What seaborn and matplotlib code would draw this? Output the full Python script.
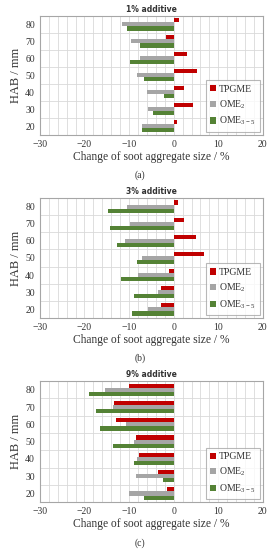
import numpy as np
import pandas as pd
import seaborn as sns
import matplotlib.pyplot as plt
from matplotlib.ticker import MultipleLocator, FixedLocator

# heights above burner, top to bottom
hab = [80, 70, 60, 50, 40, 30, 20]
series = ['TPGME', 'OME$_2$', 'OME$_{3-5}$']
colors = ['#C00000', '#A5A5A5', '#548235']
titles = ['1% additive', '3% additive', '9% additive']
panel_tags = ['(a)', '(b)', '(c)']

# change of soot aggregate size / %
tpgme_1 = [1.3, -1.7, 3.0, 5.2, 2.3, 4.3, 0.7]
ome2_1 = [-11.6, -9.5, -7.6, -8.2, -6.0, -5.8, -7.1]
ome35_1 = [-10.4, -7.6, -9.9, -6.6, -2.1, -4.6, -7.1]

tpgme_3 = [0.9, 2.4, 4.9, 6.9, -1.0, -2.8, -2.8]
ome2_3 = [-10.4, -9.9, -10.9, -7.2, -8.1, -3.5, -5.7]
ome35_3 = [-14.7, -14.3, -12.8, -8.2, -11.9, -8.8, -9.3]

tpgme_9 = [-10.1, -13.3, -13.0, -8.4, -7.7, -3.6, -1.4]
ome2_9 = [-15.4, -13.7, -10.6, -8.9, -8.2, -8.4, -10.1]
ome35_9 = [-18.9, -17.5, -16.5, -13.7, -8.8, -2.4, -6.6]

panels = [(tpgme_1, ome2_1, ome35_1),
          (tpgme_3, ome2_3, ome35_3),
          (tpgme_9, ome2_9, ome35_9)]

sns.set_theme(style='white')
plt.rcParams['font.family'] = ['Liberation Serif', 'DejaVu Serif']
plt.rcParams['mathtext.default'] = 'regular'

fig = plt.figure(figsize=(2.77, 5.5), dpi=100)
boxes = [[0.144, 0.755, 0.805, 0.216],
         [0.144, 0.422, 0.805, 0.218],
         [0.144, 0.087, 0.805, 0.220]]

for box, vals, title, tag in zip(boxes, panels, titles, panel_tags):
    ax = fig.add_axes(box)
    df = pd.DataFrame({
        'HAB': hab * 3,
        'series': [s for s in series for _ in hab],
        'change': list(vals[0]) + list(vals[1]) + list(vals[2]),
    })
    sns.barplot(data=df, x='change', y='HAB', hue='series', order=hab,
                hue_order=series, palette=colors, orient='h', width=0.72,
                gap=0, saturation=1, linewidth=0, ax=ax)
    ax.set_xlim(-30, 20)
    ax.set_ylim(6.5, -0.5)
    ax.xaxis.set_major_locator(MultipleLocator(10))
    ax.xaxis.set_minor_locator(MultipleLocator(2))
    ax.yaxis.set_minor_locator(FixedLocator(np.arange(-0.5, 7, 1)))
    ax.grid(True, which='minor', axis='both', color='#D9D9D9', lw=0.6)
    ax.grid(True, which='major', axis='x', color='#D9D9D9', lw=0.6)
    ax.set_axisbelow(True)
    ax.tick_params(which='both', length=0, labelsize=7, colors='#333333', pad=3.5)
    for sp in ax.spines.values():
        sp.set_color('#A6A6A6')
        sp.set_linewidth(0.8)
    ax.set_ylabel('HAB / mm', fontsize=9, color='#333333', labelpad=2)
    ax.set_xlabel('Change of soot aggregate size / %', fontsize=8.3,
                  color='#333333', labelpad=1.5)
    ax.set_title(title, fontsize=5.5, fontweight='bold', family='DejaVu Sans',
                 color='#333333', pad=3)
    ax.text(0.45, -0.30, tag, transform=ax.transAxes, ha='center', va='top',
            fontsize=7, color='#333333')
    leg = ax.legend(loc='lower right', frameon=True, fancybox=False,
                    edgecolor='#A6A6A6', fontsize=7, handlelength=0.6,
                    handleheight=0.6, handletextpad=0.3, labelspacing=0.45,
                    borderaxespad=0.3, borderpad=0.45)
    leg.get_frame().set_linewidth(0.8)
    for t in leg.get_texts():
        t.set_color('#333333')

fig.savefig('out.png', dpi=100)
